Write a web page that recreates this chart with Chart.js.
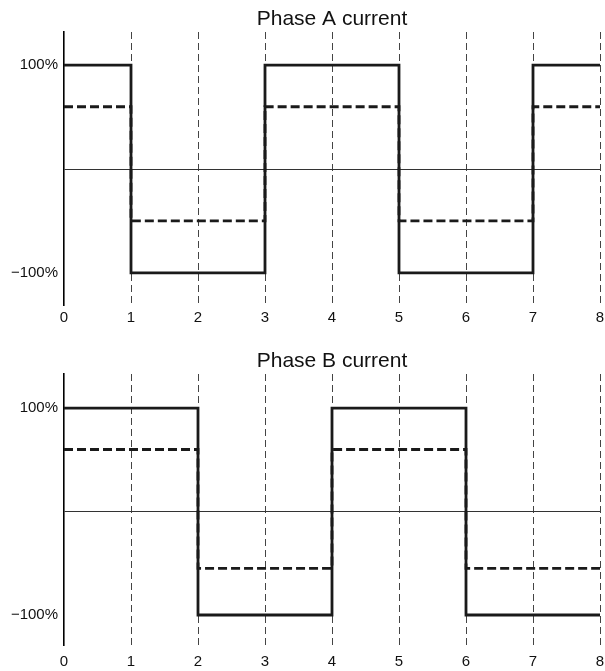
<!DOCTYPE html>
<html>
<head>
<meta charset="utf-8">
<script src="https://cdn.jsdelivr.net/npm/chart.js@4.4.1/dist/chart.umd.min.js"></script>
<style>
  body { margin: 0; background: #fff; }
  .panel { position: absolute; left: 0; width: 605px; }
</style>
</head>
<body>
<div class="panel" style="top:0;height:340px"><canvas id="phaseA"></canvas></div>
<div class="panel" style="top:340px;height:331px"><canvas id="phaseB"></canvas></div>
<script>
// phase A: switching instants (x) and levels held until the next instant
const phaseA_x = [0, 1, 3, 5, 7, 8];
const phaseA_full = [100, -100, 100, -100, 100, 100];
const phaseA_dash = [60, -50, 60, -50, 60, 60];

// phase B
const phaseB_x = [0, 2, 4, 6, 8];
const phaseB_full = [100, -100, 100, -100, -100];
const phaseB_dash = [60, -55, 60, -55, -55];

const yTicks = [-100, 0, 100];
const FONT = '"Liberation Sans", Arial, Helvetica, sans-serif';

function pts(xs, ys) {
  return xs.map((x, i) => ({ x: x, y: ys[i] }));
}

// title centred over the plot area, not over the canvas
const panelTitle = {
  id: 'panelTitle',
  afterDraw(chart, args, opts) {
    const { ctx, chartArea } = chart;
    ctx.save();
    ctx.font = '21px ' + FONT;
    ctx.fillStyle = '#111';
    ctx.textAlign = 'center';
    ctx.textBaseline = 'alphabetic';
    ctx.fillText(opts.text, (chartArea.left + chartArea.right) / 2, opts.y);
    ctx.restore();
  }
};

function makePanel(id, title, xs, full, dash, g) {
  return new Chart(document.getElementById(id), {
    type: 'line',
    data: {
      datasets: [{
        data: pts(xs, dash),
        stepped: true,
        borderColor: '#1a1a1a',
        borderWidth: 2.8,
        borderDash: [9, 4],
        pointRadius: 0,
        fill: false
      }, {
        data: pts(xs, full),
        stepped: true,
        borderColor: '#1a1a1a',
        borderWidth: 2.8,
        pointRadius: 0,
        fill: false
      }]
    },
    options: {
      responsive: true,
      maintainAspectRatio: false,
      animation: false,
      layout: { padding: { left: 0, right: 5, top: g.top, bottom: 0 } },
      plugins: {
        legend: { display: false },
        tooltip: { enabled: false },
        panelTitle: { text: title, y: g.titleY }
      },
      scales: {
        x: {
          type: 'linear',
          min: 0,
          max: 8,
          afterFit: s => { s.height = g.xh; s.paddingLeft = 0; s.paddingRight = 0; },
          ticks: {
            stepSize: 1,
            color: '#111',
            padding: g.xpad,
            font: { family: FONT, size: 15 }
          },
          grid: {
            drawTicks: false,
            lineWidth: 1,
            color: c => (c.tick && c.tick.value === 0) ? 'rgba(0,0,0,0)' : '#444'
          },
          border: { display: false, dash: [7, 4] }
        },
        y: {
          min: g.ymin,
          max: g.ymax,
          afterFit: s => { s.width = 64; s.paddingTop = 0; s.paddingBottom = 0; },
          afterBuildTicks: s => { s.ticks = yTicks.map(v => ({ value: v })); },
          ticks: {
            color: '#111',
            padding: 6,
            font: { family: FONT, size: 15 },
            callback: v => v === 100 ? '100%' : (v === -100 ? '\u2212100%' : '')
          },
          grid: {
            drawTicks: false,
            lineWidth: 1,
            color: c => (c.tick && c.tick.value === 0) ? '#333' : 'rgba(0,0,0,0)'
          },
          border: { display: true, color: '#000', width: 1.6 }
        }
      }
    },
    plugins: [panelTitle]
  });
}

makePanel('phaseA', 'Phase A current', phaseA_x, phaseA_full, phaseA_dash,
  { top: 32, xh: 35, xpad: 4, ymin: -131, ymax: 132, titleY: 25 });
makePanel('phaseB', 'Phase B current', phaseB_x, phaseB_full, phaseB_dash,
  { top: 34, xh: 26, xpad: 8, ymin: -129, ymax: 133, titleY: 27 });
</script>
</body>
</html>
